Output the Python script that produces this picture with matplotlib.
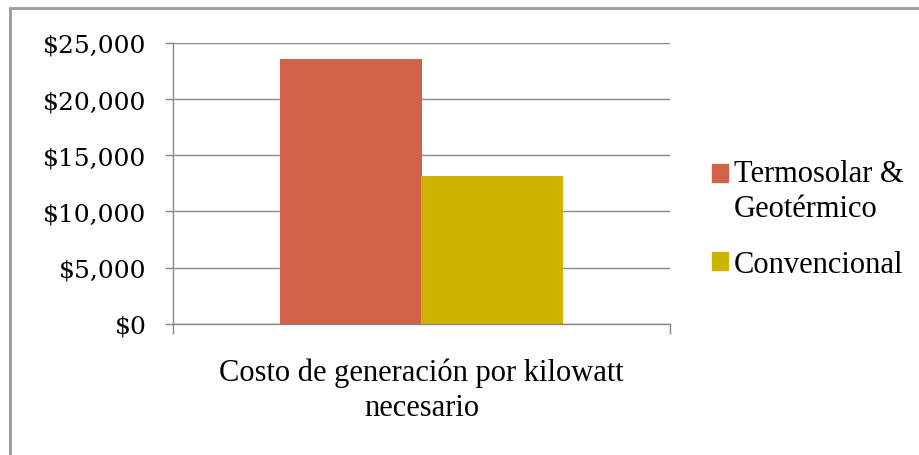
import matplotlib.pyplot as plt
from matplotlib.patches import Rectangle, Patch
from matplotlib.legend_handler import HandlerPatch
from matplotlib.ticker import FuncFormatter

categories = ["Costo de generación por kilowatt\nnecesario"]
series_names = ["Termosolar &\nGeotérmico", "Convencional"]
termosolar = [23600]
convencional = [13150]
colors = ["#D16349", "#CCB400"]
yticks = [0, 5000, 10000, 15000, 20000, 25000]

fig = plt.figure(figsize=(9.19, 4.56), dpi=100)
ax = fig.add_axes([173/919, 1 - 324.7/456, 497/919, 280.7/456])

w = 0.285
x = [0]
ax.bar([v - w/2 for v in x], termosolar, width=w, color=colors[0])
ax.bar([v + w/2 for v in x], convencional, width=w, color=colors[1])

ax.set_xlim(-0.5, 0.5)
ax.set_ylim(0, 25000)
ax.set_yticks(yticks)
ax.yaxis.set_major_formatter(FuncFormatter(lambda v, p: "${:,.0f}".format(v)))
ax.set_xticks(x)
ax.set_xticklabels(categories, family="Liberation Serif", fontsize=22, linespacing=1.3)
ax.set_xticks([-0.5, 0.5], minor=True)
ax.tick_params(axis="x", which="major", length=0, pad=24)
ax.tick_params(axis="x", which="minor", length=7, width=1, color="#888888", direction="out")
ax.tick_params(axis="y", length=6, width=1, color="#888888", pad=13)
for lab in ax.get_yticklabels():
    lab.set_family("DejaVu Serif")
    lab.set_fontsize(18)

ax.grid(axis="y", color="#888888", linewidth=1.0)
ax.set_axisbelow(True)
for s in ["top", "right"]:
    ax.spines[s].set_visible(False)
for s in ["left", "bottom"]:
    ax.spines[s].set_color("#888888")
    ax.spines[s].set_linewidth(1.0)


# move the marker of the two-line entry up to its first line
def raised_patch(legend, orig_handle, xdescent, ydescent, width, height, fontsize):
    return Rectangle((-xdescent, -ydescent + 0.6 * fontsize), width, height)


handles = [Patch(color=c) for c in colors]
leg = fig.legend(handles, series_names, loc="center left",
                 bbox_to_anchor=(712/919, 1 - 220/456),
                 frameon=False, prop={"family": "Liberation Serif", "size": 22},
                 handlelength=0.52, handleheight=0.52, handletextpad=0.2,
                 labelspacing=0.88, borderaxespad=0, borderpad=0,
                 handler_map={handles[0]: HandlerPatch(patch_func=raised_patch)})
for t in leg.get_texts():
    t.set_linespacing(1.27)

fig.patches.append(Rectangle((10/919, -0.2), 1.2, 1.2 - 9/456,
                             transform=fig.transFigure, fill=False,
                             edgecolor="#999999", linewidth=2))

fig.savefig("out.png", dpi=100)
